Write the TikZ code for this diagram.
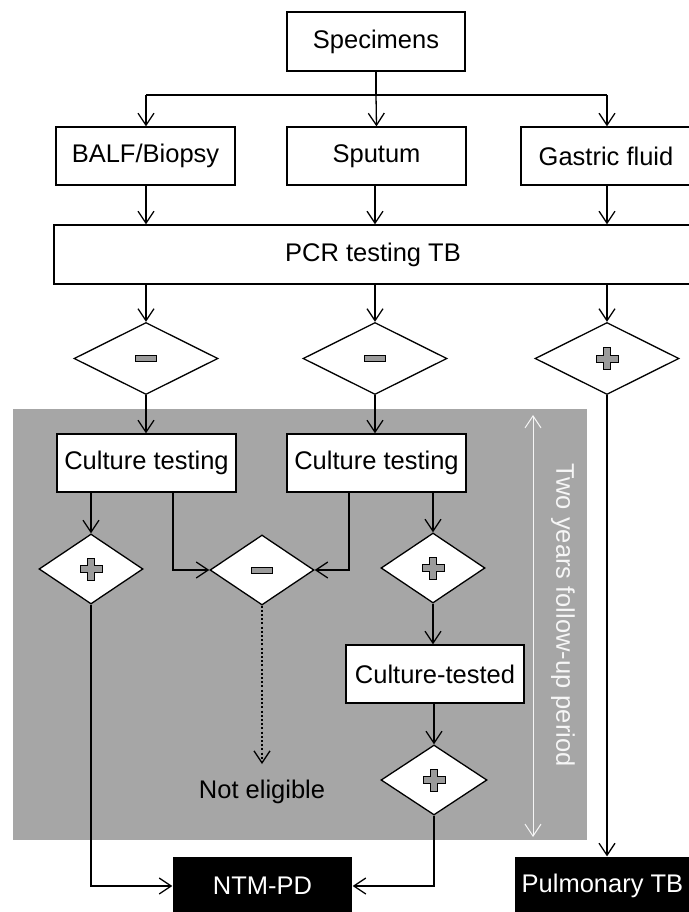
\documentclass[tikz,border=0pt]{standalone}
\usepackage{fontspec}
\setmainfont{Liberation Sans}
\usetikzlibrary{shapes.geometric,arrows.meta}
\definecolor{panelgray}{RGB}{166,166,166}
\definecolor{signgray}{RGB}{155,155,155}
\definecolor{fuwhite}{RGB}{246,246,246}
\begin{document}
\begin{tikzpicture}[x=1pt,y=-1pt,
  font=\fontsize{25.5}{30}\selectfont,
  line width=1.3pt,
  arr/.style={-{Straight Barb[length=12pt,width=16pt,line width=1.3pt]}},
  box/.style={draw,fill=white,minimum width=179pt,minimum height=58pt,inner sep=0pt},
  dia/.style={draw,fill=white,diamond,inner sep=0pt,minimum width=104pt,minimum height=70pt},
  bigdia/.style={dia,minimum width=144pt,minimum height=72pt},
  blk/.style={fill=black,text=white,inner sep=0pt,minimum height=58pt},
  sgn/.style={fill=signgray,draw=black,line width=0.8pt},
  pics/minussign/.style={code={\filldraw[sgn] (-10.5,-3) rectangle (10.5,3);}},
  pics/plussign/.style={code={\filldraw[sgn] (-3.5,-11) -- (3.5,-11) -- (3.5,-3.5) -- (11,-3.5) -- (11,3.5) -- (3.5,3.5) -- (3.5,11) -- (-3.5,11) -- (-3.5,3.5) -- (-11,3.5) -- (-11,-3.5) -- (-3.5,-3.5) -- cycle;}},
]
\useasboundingbox (0,0) rectangle (688,912);
\fill[white] (0,0) rectangle (688,912);

% follow-up panel
\fill[panelgray] (13,409) rectangle (587,840);

% nodes
\node[box,minimum width=178pt,minimum height=59pt] (spec) at (376,41.5) {Specimens};
\node[box] (balf) at (145.5,156) {BALF/Biopsy};
\node[box] (sput) at (376.5,156) {Sputum};
\node[box,minimum width=170pt] (gast) at (606,156) {Gastric fluid};
\node[box,minimum width=638pt,minimum height=59pt] (pcr) at (373,254.5) {PCR testing TB};

\node[bigdia] (d1) at (146,358.5) {};
\node[bigdia] (d2) at (375,358.5) {};
\node[bigdia] (d3) at (607,358.5) {};

\node[box] (ct1) at (146.5,463) {Culture testing};
\node[box] (ct2) at (376.5,463) {Culture testing};

\node[dia] (dp1) at (91,569) {};
\node[dia] (dm) at (262,570) {};
\node[dia] (dp2) at (433,568) {};

\node[box,minimum width=178pt] (ctd) at (435,674) {Culture-tested};
\node[dia,minimum width=106pt] (dp3) at (434,780) {};

\node (ne) at (262,792) {Not eligible};
\coordinate (neTip) at (262,764);

\node[blk,minimum width=179pt] (ntm) at (262.5,886) {NTM-PD};
\node[blk,minimum width=175pt] (ptb) at (602.5,886) {Pulmonary TB};

% signs
\pic at (d1) {minussign};
\pic at (d2) {minussign};
\pic at (d3) {plussign};
\pic at (dp1) {plussign};
\pic at (dm) {minussign};
\pic at (dp2) {plussign};
\pic at (dp3) {plussign};

% connectors
\coordinate (br) at (376,95);
\draw (spec.south) -- (br);
\draw (d1 |- br) -- (d3 |- br);
\draw[arr] (d1 |- br) -- (d1 |- balf.north);
\draw[arr] (br) -- (sput.north);
\draw[arr] (d3 |- br) -- (d3 |- gast.north);

\draw[arr] (d1 |- balf.south) -- (d1 |- pcr.north);
\draw[arr] (d2 |- sput.south) -- (d2 |- pcr.north);
\draw[arr] (d3 |- gast.south) -- (d3 |- pcr.north);

\draw[arr] (d1 |- pcr.south) -- (d1.north);
\draw[arr] (d2 |- pcr.south) -- (d2.north);
\draw[arr] (d3 |- pcr.south) -- (d3.north);

\draw[arr] (d1.south) -- (d1 |- ct1.north);
\draw[arr] (d2.south) -- (d2 |- ct2.north);

\draw[arr] (dp1 |- ct1.south) -- (dp1.north);
\draw[arr] (173,492) |- (dm.west);
\draw[arr] (349,492) |- (dm.east);
\draw[arr] (dp2 |- ct2.south) -- (dp2.north);
\draw[arr] (dp2.south) -- (dp2 |- ctd.north);
\draw[arr] (dp3 |- ctd.south) -- (dp3.north);

\draw[line width=2.2pt,dash pattern=on 2pt off 2.2pt,-{Straight Barb[length=12pt,width=16pt,line width=1.3pt]}] (dm.south) -- (neTip);

\draw[arr] (dp1.south) |- (ntm.west);
\draw[arr] (dp3.south) |- (ntm.east);
\draw[arr] (d3.south) -- (d3 |- ptb.north);

% follow-up period
\coordinate (fu1) at (533,415);
\coordinate (fu2) at (533,837);
\draw[fuwhite,line width=1pt,{Straight Barb[length=12pt,width=16pt,line width=1pt]}-{Straight Barb[length=12pt,width=16pt,line width=1pt]}] (fu1) -- (fu2);
\node[text=fuwhite,rotate=-90] (fu) at (563,615) {Two years follow-up period};
\end{tikzpicture}
\end{document}
